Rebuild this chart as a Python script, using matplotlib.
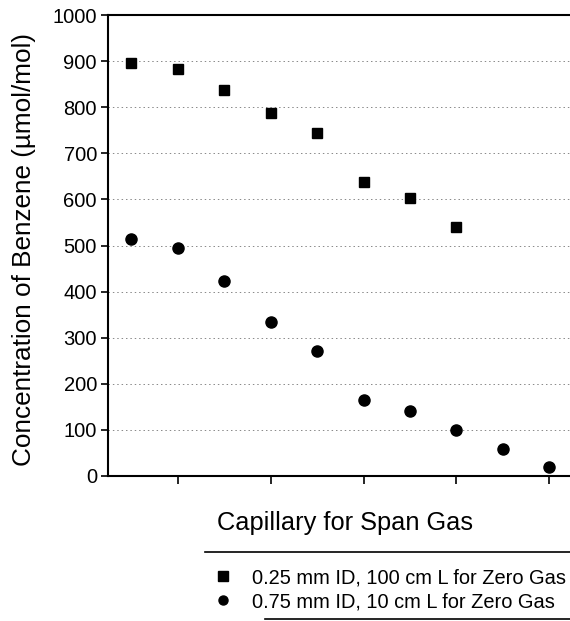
import matplotlib
matplotlib.use("Agg")
import matplotlib.pyplot as plt
from matplotlib.lines import Line2D

plt.rcParams['font.family'] = ['Liberation Sans', 'DejaVu Sans']

x_sq = [1, 2, 3, 4, 5, 6, 7, 8]
y_sq = [895, 882, 838, 788, 745, 638, 603, 540]
x_ci = [1, 2, 3, 4, 5, 6, 7, 8, 9, 10]
y_ci = [515, 495, 423, 333, 272, 165, 140, 100, 58, 20]
labels = ["0.25 mm ID, 100 cm L for Zero Gas", "0.75 mm ID, 10 cm L for Zero Gas"]
yticks = list(range(0, 1001, 100))
xticks = [2, 4, 6, 8, 10]

fig = plt.figure(figsize=(5.7, 6.21), dpi=100)
ax = fig.add_axes([0.1895, 0.2335, 0.815, 0.7423])
ax.set_xlim(0.5, 10.5)
ax.set_ylim(0, 1000)
for v in yticks[1:-1]:
    ax.axhline(v, color='#888888', lw=0.7, ls=(0, (1.5, 3)), zorder=0)
ax.plot(x_sq, y_sq, 's', color='black', ms=7.5, label=labels[0], zorder=3)
ax.plot(x_ci, y_ci, 'o', color='black', ms=8, label=labels[1], zorder=3)
ax.set_yticks(yticks)
ax.set_xticks(xticks)
ax.set_xticklabels([])
ax.tick_params(axis='y', labelsize=14.5, direction='out', length=5, width=1.2, pad=3)
ax.tick_params(axis='x', direction='out', length=6, width=1.2)
ax.spines['right'].set_visible(False)
for s in ['left', 'bottom', 'top']:
    ax.spines[s].set_linewidth(1.5)
ax.set_ylabel("Concentration of Benzene (µmol/mol)", fontsize=18.8, labelpad=4)
ax.yaxis.set_label_coords(-0.156, 0.492)
ax.set_xlabel("Capillary for Span Gas", fontsize=18.3)
ax.xaxis.set_label_coords(0.51, -0.075)

leg = fig.legend(loc='upper left', bbox_to_anchor=(213/570, 1 - 568/621),
                 frameon=False, fontsize=14.4, handletextpad=0.95,
                 borderpad=0, labelspacing=0.25, borderaxespad=0, handlelength=1.0)
for h in leg.legend_handles:
    h.set_markersize(6.5)

fig.add_artist(Line2D([205/570, 1.0], [1 - 552/621] * 2, transform=fig.transFigure,
                      color='black', lw=1.2))
fig.add_artist(Line2D([265/570, 1.0], [1 - 619/621] * 2, transform=fig.transFigure,
                      color='black', lw=1.2))

fig.savefig("out.png", dpi=100)
